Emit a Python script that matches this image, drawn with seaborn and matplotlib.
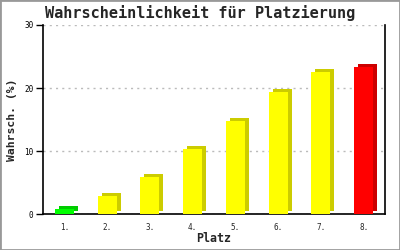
import matplotlib
matplotlib.use("Agg")
import matplotlib.pyplot as plt
import matplotlib.transforms as mtransforms
from matplotlib.patches import Rectangle
import seaborn as sns
import pandas as pd

places = ["1.", "2.", "3.", "4.", "5.", "6.", "7.", "8."]
probs = [0.8, 2.9, 5.9, 10.4, 14.8, 19.4, 22.6, 23.4]
front_colors = ["#00ff00", "#ffff00", "#ffff00", "#ffff00", "#ffff00", "#ffff00", "#ffff00", "#ff0000"]
side_colors = ["#00cc00", "#cccc00", "#cccc00", "#cccc00", "#cccc00", "#cccc00", "#cccc00", "#cc0000"]
y_ticks = [0, 10, 20, 30]

sns.set_style("white")
plt.rcParams["font.family"] = ["DejaVu Sans Mono", "DejaVu Sans"]

df = pd.DataFrame({"Platz": places, "p": probs})

fig = plt.figure(figsize=(4, 2.5), dpi=100)
ax = fig.add_axes([0.1075, 0.143, 0.855, 0.757])

# shadow (3D side) bars
sns.barplot(data=df, x="Platz", y="p", hue="Platz", palette=side_colors,
            legend=False, width=0.45, ax=ax, saturation=1, zorder=2)
n_shadow = len(ax.patches)
off = mtransforms.ScaledTranslation(4 / 100, 3 / 100, fig.dpi_scale_trans)
for patch in ax.patches[:n_shadow]:
    patch.set_transform(ax.transData + off)
    patch.set_linewidth(0)

# front bars
sns.barplot(data=df, x="Platz", y="p", hue="Platz", palette=front_colors,
            legend=False, width=0.45, ax=ax, saturation=1, zorder=3)
for patch in ax.patches[n_shadow:]:
    patch.set_linewidth(0)

ax.set_ylim(0, 30)
ax.set_xlim(-0.5, len(places) - 0.5)
ax.set_yticks(y_ticks)
ax.set_yticklabels([str(t) for t in y_ticks], fontsize=5.5)
ax.tick_params(axis="y", which="both", left=True, length=5, width=1, direction="out", pad=2, colors="black")
ax.tick_params(axis="x", bottom=False, labelsize=5.5, pad=2.5)
ax.yaxis.grid(True, linestyle=(0, (1.5, 3)), color="#bbbbbb", linewidth=1)
ax.set_axisbelow(True)

for s in ["left", "bottom", "right"]:
    ax.spines[s].set_visible(True)
    ax.spines[s].set_color("black")
    ax.spines[s].set_linewidth(1.2)
ax.spines["top"].set_visible(False)

ax.set_xlabel("Platz", fontsize=8.4, fontweight="bold")
ax.xaxis.set_label_coords(0.5, -0.13)
ax.xaxis.label.set_va("center")
ax.set_ylabel("Wahrsch. (%)", fontsize=8.2, fontweight="bold")
ax.yaxis.set_label_coords(-0.0906, 0.5)
ax.yaxis.label.set_va("center")
ax.yaxis.label.set_ha("center")

fig.text(0.5, 1 - 13 / 250, "Wahrscheinlichkeit für Platzierung", fontsize=11,
         fontweight="bold", ha="center", va="center")

fig.patches.append(Rectangle((0, 0), 1, 1, transform=fig.transFigure, fill=False,
                             edgecolor="#999999", linewidth=2, zorder=10))

fig.savefig("out.png", dpi=100)
